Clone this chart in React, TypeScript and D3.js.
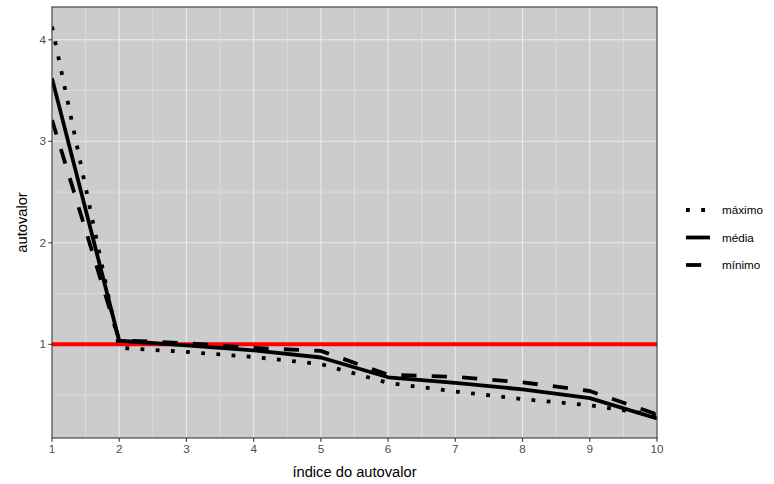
import React from "react";
import * as d3 from "d3";

const indices = [1, 2, 3, 4, 5, 6, 7, 8, 9, 10];
const maximo = [4.13, 0.965, 0.925, 0.875, 0.805, 0.62, 0.535, 0.46, 0.40, 0.30];
const media = [3.62, 1.035, 0.99, 0.94, 0.87, 0.675, 0.62, 0.556, 0.47, 0.27];
const minimo = [3.21, 1.04, 1.01, 0.965, 0.935, 0.70, 0.68, 0.626, 0.54, 0.31];
const seriesNames = ["máximo", "média", "mínimo"];
const yTicks = [1, 2, 3, 4];
const yMinor = [0.5, 1.5, 2.5, 3.5];
const xTicks = [1, 2, 3, 4, 5, 6, 7, 8, 9, 10];
const xMinor = [1.5, 2.5, 3.5, 4.5, 5.5, 6.5, 7.5, 8.5, 9.5];
const hlineValue = 1;

const W = 774, H = 484;
const left = 52, right = 657, top = 7, bottom = 438;
const font = "'Liberation Sans', Arial, Helvetica, sans-serif";
const LW = 3.8;
const dashes = ["3.8 11.4", "", "15.2 15.2"];

export default function App() {
  const all = [...maximo, ...media, ...minimo];
  const lo = d3.min(all)!, hi = d3.max(all)!;
  const pad = (hi - lo) * 0.05;
  const x = d3.scaleLinear().domain([1, 10]).range([left, right]);
  const y = d3.scaleLinear().domain([lo - pad, hi + pad]).range([bottom, top]);
  const line = d3.line<number>().x((_, i) => x(indices[i])).y((d) => y(d));
  const data = [maximo, media, minimo];
  const legendY = [210, 237.5, 265];
  return (
    <svg width={W} height={H} style={{ display: "block", position: "absolute", left: 0, top: 0 }} fontFamily={font}>
      <rect x={0} y={0} width={W} height={H} fill="white" />
      <rect x={left} y={top} width={right - left} height={bottom - top} fill="#cccccc" />
      {yMinor.map((v) => (
        <line key={"ym" + v} x1={left} x2={right} y1={y(v)} y2={y(v)} stroke="#ebebeb" strokeWidth={0.53} />
      ))}
      {xMinor.map((v) => (
        <line key={"xm" + v} x1={x(v)} x2={x(v)} y1={top} y2={bottom} stroke="#ebebeb" strokeWidth={0.53} />
      ))}
      {yTicks.map((v) => (
        <line key={"yM" + v} x1={left} x2={right} y1={y(v)} y2={y(v)} stroke="#ebebeb" strokeWidth={1.07} />
      ))}
      {xTicks.map((v) => (
        <line key={"xM" + v} x1={x(v)} x2={x(v)} y1={top} y2={bottom} stroke="#ebebeb" strokeWidth={1.07} />
      ))}
      <line x1={left} x2={right} y1={y(hlineValue)} y2={y(hlineValue)} stroke="#ff0000" strokeWidth={4} />
      <defs>
        <clipPath id="clip">
          <rect x={left} y={top} width={right - left} height={bottom - top} />
        </clipPath>
      </defs>
      <g clipPath="url(#clip)">
        {data.map((s, i) => (
          <path key={i} d={line(s)!} fill="none" stroke="black" strokeWidth={LW}
            strokeDasharray={dashes[i] || undefined} strokeLinecap="butt" strokeLinejoin="round" />
        ))}
      </g>
      <rect x={left} y={top} width={right - left} height={bottom - top} fill="none" stroke="#333333" strokeWidth={1.07} />
      {yTicks.map((v) => (
        <g key={"yt" + v}>
          <line x1={left - 3.67} x2={left} y1={y(v)} y2={y(v)} stroke="#333333" strokeWidth={1.07} />
          <text x={left - 6} y={y(v)} dy="0.35em" textAnchor="end" fontSize={11.7} fill="#4d4d4d">{v}</text>
        </g>
      ))}
      {xTicks.map((v) => (
        <g key={"xt" + v}>
          <line x1={x(v)} x2={x(v)} y1={bottom} y2={bottom + 3.67} stroke="#333333" strokeWidth={1.07} />
          <text x={x(v)} y={bottom + 6} dy="0.8em" textAnchor="middle" fontSize={11.7} fill="#4d4d4d">{v}</text>
        </g>
      ))}
      <text x={(left + right) / 2} y={477} textAnchor="middle" fontSize={14.7} fill="black">índice do autovalor</text>
      <text transform={`translate(27,${(top + bottom) / 2}) rotate(-90)`} textAnchor="middle" fontSize={14.7} fill="black">autovalor</text>
      {seriesNames.map((n, i) => (
        <g key={n}>
          <line x1={686} x2={710} y1={legendY[i]} y2={legendY[i]} stroke="black" strokeWidth={LW}
            strokeDasharray={dashes[i] || undefined} strokeLinecap="butt" />
          <text x={722} y={legendY[i]} dy="0.35em" fontSize={11.7} fill="black">{n}</text>
        </g>
      ))}
    </svg>
  );
}
